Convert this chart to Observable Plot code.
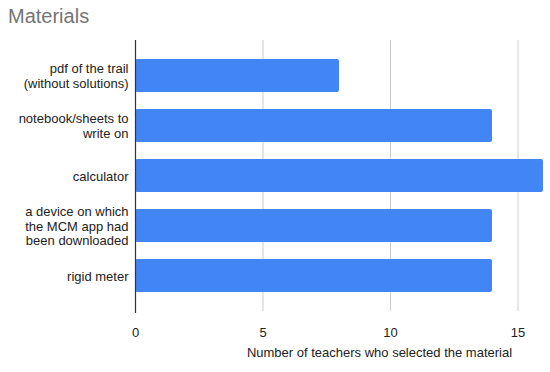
<!DOCTYPE html>
<html><head><meta charset="utf-8">
<script src="https://cdn.jsdelivr.net/npm/d3@7"></script>
<script src="https://cdn.jsdelivr.net/npm/@observablehq/plot@0.6"></script>
<style>
body{margin:0;background:#fff;font-family:Arial,"Liberation Sans",sans-serif;}
#title{height:32px;line-height:32px;padding-left:8px;font-size:20px;color:#757575;box-sizing:border-box;}
</style>
</head><body>
<div id="title">Materials</div>
<div id="chart"></div>
<script>
const categories = ["pdf of the trail\n(without solutions)", "notebook/sheets to\nwrite on", "calculator", "a device on which\nthe MCM app had\nbeen downloaded", "rigid meter"];
const counts = [8, 14, 16, 14, 14];
const xTicks = [0, 5, 10, 15];
const xLabel = "Number of teachers who selected the material";

const data = categories.map((c, i) => ({category: c, count: counts[i]}));

const chart = Plot.plot({
  width: 550,
  height: 340,
  marginTop: 8,
  marginBottom: 61,
  marginLeft: 135,
  marginRight: 7,
  style: {fontFamily: "Arial, 'Liberation Sans', sans-serif", fontSize: "13px", color: "#222"},
  x: {domain: [0, 16], ticks: xTicks},
  y: {domain: categories, padding: 0.35, label: null},
  marks: [
    Plot.gridX(xTicks.filter(t => t > 0), {stroke: "#ccc", strokeOpacity: 1}),
    Plot.axisX({ticks: xTicks, tickSize: 0, tickPadding: 16, label: null, fill: "#222"}),
    Plot.axisY({tickSize: 0, tickPadding: 7, label: null, lineHeight: 1.08, fill: "#222"}),
    Plot.barX(data, {x: "count", y: "category", fill: "#4285f4", rx: 2}),
    Plot.ruleX([0], {stroke: "#333", strokeWidth: 1.2, insetBottom: -2}),
    Plot.text([xLabel], {frameAnchor: "bottom", dx: 40, dy: 45, fill: "#222", fontSize: 13})
  ]
});
document.getElementById("chart").appendChild(chart);
</script>
</body></html>
